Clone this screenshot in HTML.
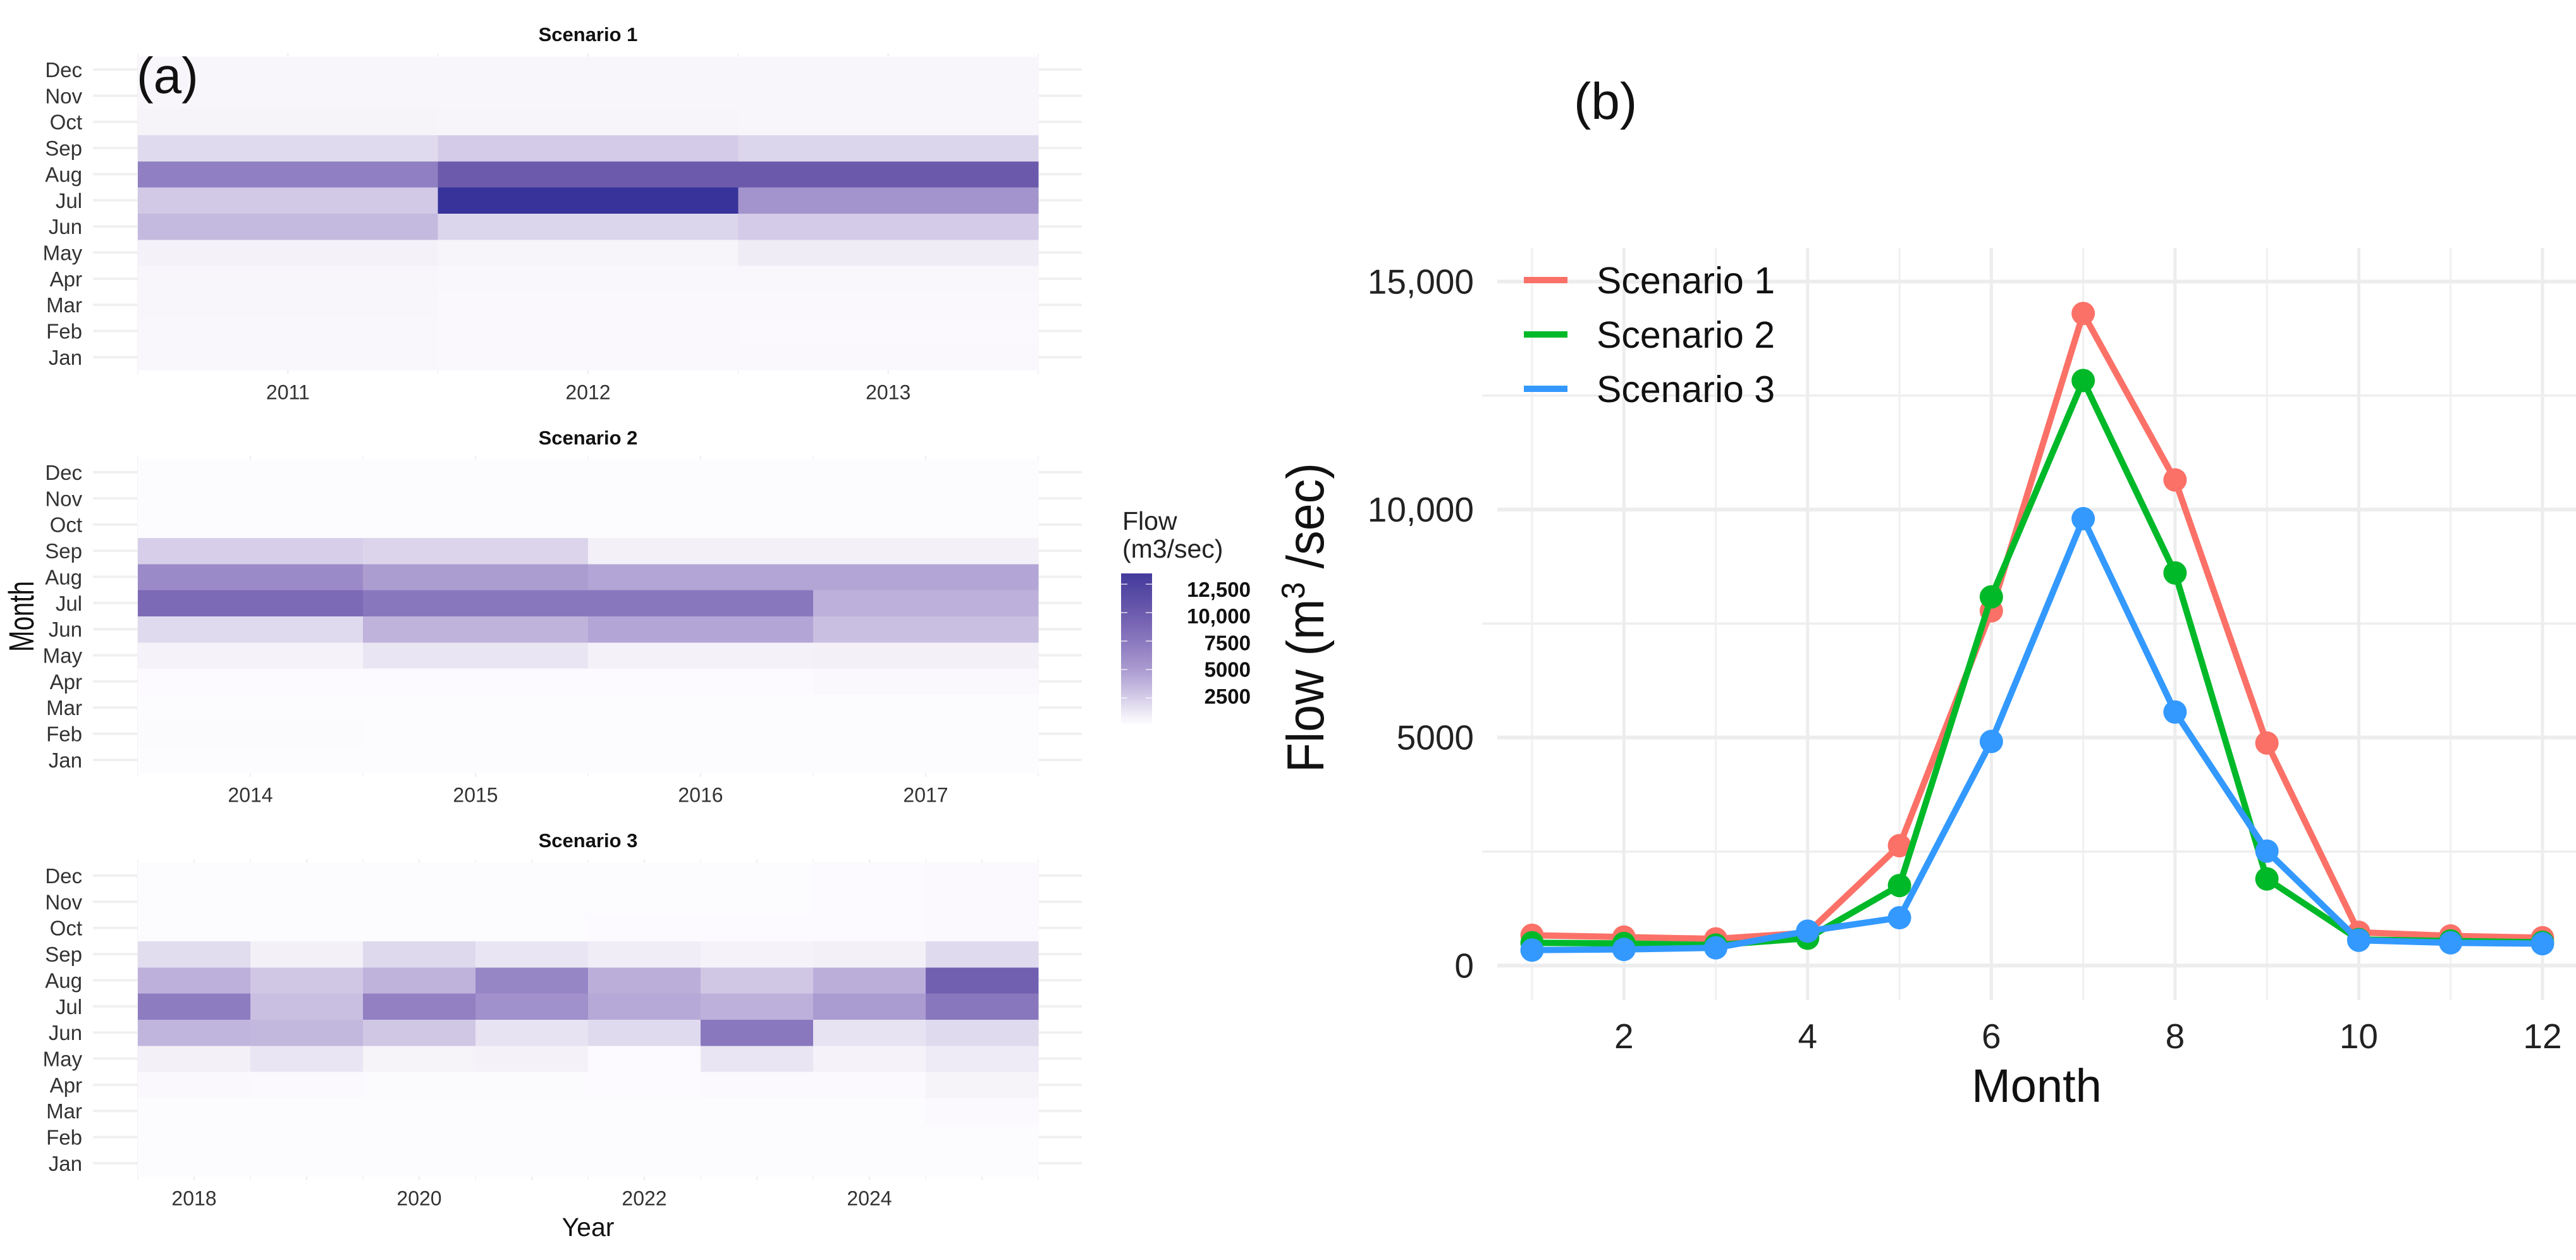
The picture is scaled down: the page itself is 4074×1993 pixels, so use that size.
<!DOCTYPE html>
<html lang="en">
<head>
<meta charset="utf-8">
<title>Flow heatmaps and monthly flow by scenario</title>
<style>
html,body{margin:0;padding:0;background:#fff;}
svg{display:block;font-family:"Liberation Sans",sans-serif;}
</style>
</head>
<body>
<svg id="chart" xmlns="http://www.w3.org/2000/svg" width="4074" height="1993" viewBox="0 0 4074 1993">
  <rect width="4074" height="1993" fill="#ffffff"/>
  <defs>
    <linearGradient id="flowGradient" x1="0" y1="1" x2="0" y2="0"></linearGradient>
  </defs>
  <g id="heatmaps"></g>
  <g id="linechart"></g>

  <text x="216" y="147" font-size="80" fill="#111">(a)</text>
  <text x="2489" y="188" font-size="82" fill="#111">(b)</text>

  <text x="930" y="65" font-size="31" font-weight="bold" text-anchor="middle" fill="#111">Scenario 1</text>
  <text x="930" y="703" font-size="31" font-weight="bold" text-anchor="middle" fill="#111">Scenario 2</text>
  <text x="930" y="1340" font-size="31" font-weight="bold" text-anchor="middle" fill="#111">Scenario 3</text>

  <text transform="translate(53,1031) rotate(-90) scale(.72,1)" font-size="56" fill="#111">Month</text>
  <text x="930" y="1955" font-size="41" text-anchor="middle" fill="#111">Year</text>

  <g>
    <text x="1775" y="838" font-size="41" fill="#222">Flow</text>
    <text x="1775" y="882" font-size="41" fill="#222">(m3/sec)</text>
    <rect x="1773" y="907" width="49" height="238" fill="url(#flowGradient)"/>
    <g id="colorbarTicks"></g>
  </g>

  <text transform="translate(2093,1222) rotate(-90) scale(.93,1)" font-size="83" fill="#111" xml:space="preserve">Flow (m<tspan dy="-30" font-size="52">3</tspan><tspan dy="30"> /sec)</tspan></text>
  <text x="3221" y="1743" font-size="74" text-anchor="middle" fill="#111">Month</text>

  <g id="lineLegend">
    <rect x="2410" y="438" width="69" height="10" fill="#fb7168"/>
    <text x="2525" y="464" font-size="59" fill="#111">Scenario 1</text>
    <rect x="2410" y="524" width="69" height="10" fill="#00b929"/>
    <text x="2525" y="550" font-size="59" fill="#111">Scenario 2</text>
    <rect x="2410" y="610" width="69" height="10" fill="#3399ff"/>
    <text x="2525" y="636" font-size="59" fill="#111">Scenario 3</text>
  </g>
</svg>

<script>
// ---------- Heatmap data (rows run Jan to Dec, one value per year) ----------
var monthLabels = ['Jan','Feb','Mar','Apr','May','Jun','Jul','Aug','Sep','Oct','Nov','Dec'];

var scenario1Years = [2011,2012,2013];
var scenario1Jan = [470,380,360];
var scenario1Feb = [430,360,340];
var scenario1Mar = [500,380,370];
var scenario1Apr = [520,460,430];
var scenario1May = [800,600,1100];
var scenario1Jun = [3500,2100,2600];
var scenario1Jul = [2700,14300,5500];
var scenario1Aug = [7000,10000,10100];
var scenario1Sep = [1900,2600,2100];
var scenario1Oct = [700,600,550];
var scenario1Nov = [530,500,560];
var scenario1Dec = [540,500,500];

var scenario2Years = [2014,2015,2016,2017];
var scenario2Jan = [200,200,200,200];
var scenario2Feb = [280,210,200,200];
var scenario2Mar = [210,200,200,200];
var scenario2Apr = [250,250,250,400];
var scenario2May = [750,1400,800,900];
var scenario2Jun = [1900,3800,4500,3200];
var scenario2Jul = [8700,7600,7600,3900];
var scenario2Aug = [6200,4900,4500,4500];
var scenario2Sep = [2400,2200,850,900];
var scenario2Oct = [220,210,210,210];
var scenario2Nov = [210,200,200,200];
var scenario2Dec = [210,200,200,200];

var scenario3Years = [2018,2019,2020,2021,2022,2023,2024,2025];
var scenario3Labels = ['2018','','2020','','2022','','2024',''];
var scenario3Jan = [200,200,200,200,200,200,200,220];
var scenario3Feb = [200,200,200,200,200,200,200,220];
var scenario3Mar = [210,210,210,210,230,230,230,350];
var scenario3Apr = [400,350,280,260,250,300,350,700];
var scenario3May = [850,1400,700,800,250,1400,750,1150];
var scenario3Jun = [3700,3600,2800,1500,1900,7500,1500,1900];
var scenario3Jul = [7200,3200,6900,5800,4300,3900,5000,7600];
var scenario3Aug = [3900,2800,3800,6500,4000,2800,4000,9600];
var scenario3Sep = [1800,850,1950,1400,1050,750,850,1900];
var scenario3Oct = [230,230,230,230,240,240,240,330];
var scenario3Nov = [220,220,220,220,220,220,240,340];
var scenario3Dec = [220,220,220,220,220,220,240,340];

// ---------- Line chart data ----------
var lineMonths = [1,2,3,4,5,6,7,8,9,10,11,12];
var scenario1Flow = [665,625,585,720,2630,7780,14300,10650,4880,730,650,610];
var scenario2Flow = [500,485,450,600,1755,8085,12830,8610,1900,570,540,510];
var scenario3Flow = [340,355,390,755,1050,4915,9800,5560,2510,555,500,480];
var xTickMonths = [2,4,6,8,10,12];
var yTickValues = [0,5000,10000,15000];
var yTickLabels = ['0','5000','10,000','15,000'];
var yMinorValues = [2500,7500,12500];
var colorbarTickValues = [2500,5000,7500,10000,12500];
var colorbarTickLabels = ['2500','5000','7500','10,000','12,500'];

// ---------- Helpers ----------
var NS = 'http://www.w3.org/2000/svg';
function mk(tag, parent, attrs, text) {
  var el = document.createElementNS(NS, tag);
  for (var k in attrs) { el.setAttribute(k, attrs[k]); }
  if (text !== undefined) { el.textContent = text; }
  parent.appendChild(el);
  return el;
}
var scaleDomain = [0,200,500,1000,2500,5000,7500,10000,12500,14300];
var scaleColors = [[254,253,254],[252,251,254],[249,246,251],[241,238,247],[213,205,232],[170,155,208],[138,120,191],[108,91,173],[78,67,160],[55,51,154]];
function flowColor(v) {
  var i = 0;
  while (i < scaleDomain.length - 2 && v > scaleDomain[i + 1]) { i++; }
  var t = (v - scaleDomain[i]) / (scaleDomain[i + 1] - scaleDomain[i]);
  t = Math.max(0, Math.min(1, t));
  var a = scaleColors[i], b = scaleColors[i + 1];
  return 'rgb(' + Math.round(a[0] + (b[0] - a[0]) * t) + ',' + Math.round(a[1] + (b[1] - a[1]) * t) + ',' + Math.round(a[2] + (b[2] - a[2]) * t) + ')';
}

// ---------- Heatmaps ----------
var heatRoot = document.getElementById('heatmaps');
var heatLeft = 218, heatRight = 1642, rowStep = 41.36;

function drawHeatmap(name, decY, years, labels, rows) {
  var group = mk('g', heatRoot, {});
  
  
  var colW = (heatRight - heatLeft) / years.length;
  var yBand = function (m) { return decY + (11 - m) * rowStep; };
  var xBand = function (c) { return heatLeft + (c + 0.5) * colW; };
  var top = yBand(11) - rowStep / 2, bottom = yBand(0) + rowStep / 2;

  // horizontal grid stubs
  monthLabels.forEach(function (label, m) {
    var line = mk('line', group, { x1: 147, x2: 1711, y1: yBand(m), y2: yBand(m), stroke: '#f0f0f0', 'stroke-width': 4 });
    
    
    var t = mk('text', group, { x: 130, y: yBand(m) + 12, 'font-size': 33, 'text-anchor': 'end', fill: '#333' }, label);
    
    
  });
  // vertical grid stubs at year centres and boundaries
  for (var g = 0; g <= years.length * 2; g++) {
    var gx = heatLeft + g * colW / 2;
    var vline = mk('line', group, { x1: gx, x2: gx, y1: top - 5, y2: bottom + 6, stroke: '#efefef', 'stroke-width': g % 2 ? 2.5 : 1.5 });
    
    
  }
  // tiles
  rows.forEach(function (row, m) {
    row.forEach(function (v, c) {
      var cell = mk('rect', group, { x: xBand(c) - colW / 2, y: yBand(m) - rowStep / 2, width: colW + 0.5, height: rowStep + 0.5, fill: flowColor(v), 'shape-rendering': 'crispEdges' });
      
      
    });
  });
  // year labels
  labels.forEach(function (label, c) {
    if (label === '') { return; }
    var yl = mk('text', group, { x: xBand(c), y: bottom + 46, 'font-size': 32, 'text-anchor': 'middle', fill: '#333' }, label);
    
    
  });
}

drawHeatmap('heatmap-scenario-1', 110, scenario1Years, scenario1Years.map(String),
  [scenario1Jan,scenario1Feb,scenario1Mar,scenario1Apr,scenario1May,scenario1Jun,scenario1Jul,scenario1Aug,scenario1Sep,scenario1Oct,scenario1Nov,scenario1Dec]);
drawHeatmap('heatmap-scenario-2', 747, scenario2Years, scenario2Years.map(String),
  [scenario2Jan,scenario2Feb,scenario2Mar,scenario2Apr,scenario2May,scenario2Jun,scenario2Jul,scenario2Aug,scenario2Sep,scenario2Oct,scenario2Nov,scenario2Dec]);
drawHeatmap('heatmap-scenario-3', 1385, scenario3Years, scenario3Labels,
  [scenario3Jan,scenario3Feb,scenario3Mar,scenario3Apr,scenario3May,scenario3Jun,scenario3Jul,scenario3Aug,scenario3Sep,scenario3Oct,scenario3Nov,scenario3Dec]);

// ---------- Colorbar ----------
var grad = document.getElementById('flowGradient');
var barMin = 220, barMax = 13450;
for (var s = 0; s <= 24; s++) {
  var val = barMin + (barMax - barMin) * s / 24;
  mk('stop', grad, { offset: (s / 24 * 100) + '%', 'stop-color': flowColor(val) });
}
var barTicks = document.getElementById('colorbarTicks');
function barY(v) { return 1104 - (v - 2500) * 45 / 2500; }
function barLabelY(v) { return 1101 - (v - 2500) * 42.3 / 2500; }
colorbarTickValues.forEach(function (v, i) {
  var left = mk('line', barTicks, { x1: 1773, x2: 1783, y1: barY(v), y2: barY(v), stroke: '#ffffff', 'stroke-opacity': 0.6, 'stroke-width': 2 });
  
  
  var right = mk('line', barTicks, { x1: 1812, x2: 1822, y1: barY(v), y2: barY(v), stroke: '#ffffff', 'stroke-opacity': 0.6, 'stroke-width': 2 });
  
  
  var lab = mk('text', barTicks, { x: 1978, y: barLabelY(v) + 12, 'font-size': 33, 'font-weight': 'bold', 'text-anchor': 'end', fill: '#111' }, colorbarTickLabels[i]);
  
  
});

// ---------- Line chart ----------
var lineRoot = document.getElementById('linechart');
function xMonth(m) { return 2423 + (m - 1) * 145.27; }
function yFlow(v) { return 1527.3 - v * 0.07213; }

yMinorValues.forEach(function (v) {
  var gl = mk('line', lineRoot, { x1: 2344, x2: 4074, y1: yFlow(v), y2: yFlow(v), stroke: '#eeeeee', 'stroke-width': 3.5 });
  
  
});
lineMonths.forEach(function (m) {
  var isMajor = xTickMonths.indexOf(m) >= 0;
  var gl = mk('line', lineRoot, { x1: xMonth(m), x2: xMonth(m), y1: 392, y2: 1582, stroke: isMajor ? '#ededed' : '#f0f0f0', 'stroke-width': isMajor ? 5 : 3 });
  
  
});
yTickValues.forEach(function (v, i) {
  var gl = mk('line', lineRoot, { x1: 2368, x2: 4074, y1: yFlow(v), y2: yFlow(v), stroke: '#ededed', 'stroke-width': 6 });
  
  
  var t = mk('text', lineRoot, { x: 2331, y: yFlow(v) + 19, 'font-size': 55, 'text-anchor': 'end', fill: '#222' }, yTickLabels[i]);
  
  
});
xTickMonths.forEach(function (m) {
  var t = mk('text', lineRoot, { x: xMonth(m), y: 1658, 'font-size': 55, 'text-anchor': 'middle', fill: '#222' }, String(m));
  
  
});

function drawSeries(name, values, color) {
  var group = mk('g', lineRoot, {});
  
  
  var pts = values.map(function (v, i) { return xMonth(lineMonths[i]) + ',' + yFlow(v); }).join(' ');
  var line = mk('polyline', group, { points: pts, fill: 'none', stroke: color, 'stroke-width': 10, 'stroke-linejoin': 'round' });
  
  
  values.forEach(function (v, i) {
    var dot = mk('circle', group, { cx: xMonth(lineMonths[i]), cy: yFlow(v), r: 18.5, fill: color });
    
    
  });
}
drawSeries('scenario-1-series', scenario1Flow, '#fb7168');
drawSeries('scenario-2-series', scenario2Flow, '#00b929');
drawSeries('scenario-3-series', scenario3Flow, '#3399ff');
</script>
</body>
</html>
